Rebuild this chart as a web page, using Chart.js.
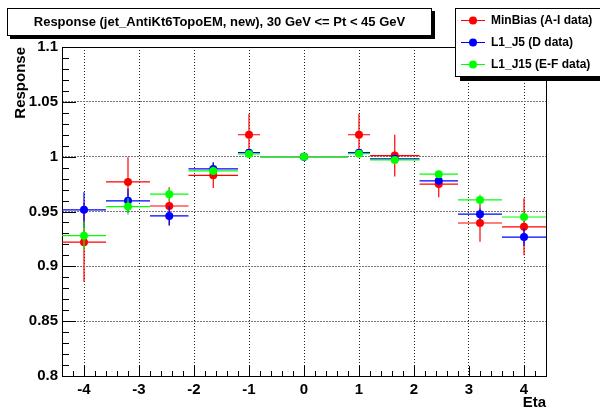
<!DOCTYPE html>
<html>
<head>
<meta charset="utf-8">
<title>Response vs Eta</title>
<script src="https://cdn.jsdelivr.net/npm/chart.js@4.4.1/dist/chart.umd.min.js"></script>
<style>
  html, body { margin: 0; padding: 0; background: #fff; }
  #wrap { position: relative; width: 600px; height: 410px; overflow: hidden;
          font-family: "Liberation Sans", Arial, Helvetica, sans-serif; }
  #chart { position: absolute; left: 0; top: 0; }
  .pave { position: absolute; background: #fff; border: 1px solid #000; box-sizing: border-box; }
  #title { left: 7px; top: 8px; width: 425px; height: 28px; box-shadow: 3px 3px 0 #000;
           font-weight: bold; font-size: 13px; line-height: 26px; text-align: center; white-space: nowrap; }
  #legend { left: 455px; top: 8px; width: 150px; height: 69px; box-shadow: 5px 4px 0 #000; }
  .leg-row { position: absolute; left: 0; height: 18px; line-height: 18px; font-weight: bold;
             font-size: 12px; white-space: nowrap; }
  .leg-row svg { position: absolute; left: 0; top: 0; }
  .leg-row span { position: absolute; left: 35px; top: 0; }
</style>
</head>
<body>
<div id="wrap">
  <canvas id="chart" width="600" height="410"></canvas>
  <div id="title" class="pave"></div>
  <div id="legend" class="pave"></div>
</div>
<script>
// ── Data ──────────────────────────────────────────────────────
const titleText = 'Response (jet_AntiKt6TopoEM, new), 30 GeV <= Pt < 45 GeV';
const seriesNames  = ['MinBias (A-I data)', 'L1_J5 (D data)', 'L1_J15 (E-F data)'];
const seriesColors = ['#ff0000', '#0000ff', '#00ff00'];

// eta bins: centre and edges
const etaCenters = [-4.0, -3.2, -2.45, -1.65, -1.0, 0.0, 1.0, 1.65, 2.45, 3.2, 4.0];
const etaLow     = [-4.4, -3.6, -2.8, -2.1, -1.2, -0.8, 0.8, 1.2, 2.1, 2.8, 3.6];
const etaHigh    = [-3.6, -2.8, -2.1, -1.2, -0.8, 0.8, 1.2, 2.1, 2.8, 3.6, 4.4];

const minBiasResp = [0.922, 0.977, 0.955, 0.983, 1.020, 1.0, 1.020, 1.001, 0.975, 0.9395, 0.936];
const minBiasErr  = [0.036, 0.0225, 0.017, 0.0115, 0.019, 0.0, 0.019, 0.019, 0.012, 0.017, 0.026];

const j5Resp = [0.9515, 0.9597, 0.946, 0.9888, 1.0036, 1.0, 1.0036, 0.998, 0.978, 0.9476, 0.9267];
const j5Err  = [0.016, 0.011, 0.009, 0.006, 0.003, 0.0, 0.003, 0.003, 0.004, 0.005, 0.008];

const j15Resp = [0.928, 0.9545, 0.9658, 0.987, 1.0025, 1.0, 1.0027, 0.997, 0.984, 0.9606, 0.945];
const j15Err  = [0.013, 0.0075, 0.006, 0.004, 0.002, 0.0, 0.002, 0.002, 0.003, 0.005, 0.004];

const etaTicks  = [-4, -3, -2, -1, 0, 1, 2, 3, 4];
const respTicks = [0.8, 0.85, 0.9, 0.95, 1.0, 1.05, 1.1];

// ── Helpers ───────────────────────────────────────────────────
const FONT = '"Liberation Sans", Arial, Helvetica, sans-serif';

function makeSet(idx, values, errs, order) {
  return {
    label: seriesNames[idx],
    data: etaCenters.map((e, i) => ({ x: e, y: values[i] })),
    yErr: errs,
    backgroundColor: seriesColors[idx],
    borderColor: seriesColors[idx],
    pointRadius: 4,
    pointBorderWidth: 0,
    showLine: false,
    order: order
  };
}

// error bars (bin width + response error), drawn under each set's markers
const errorBars = {
  id: 'errorBars',
  beforeDatasetDraw(chart, args) {
    const ds = chart.data.datasets[args.index];
    const xs = chart.scales.x, ys = chart.scales.y;
    const ctx = chart.ctx;
    ctx.save();
    ctx.strokeStyle = ds.borderColor;
    ctx.lineWidth = 1.2;
    ds.data.forEach((p, i) => {
      const py = ys.getPixelForValue(p.y);
      const px = xs.getPixelForValue(p.x);
      ctx.beginPath();
      ctx.moveTo(xs.getPixelForValue(etaLow[i]), py);
      ctx.lineTo(xs.getPixelForValue(etaHigh[i]), py);
      if (ds.yErr[i] > 0) {
        ctx.moveTo(px, ys.getPixelForValue(p.y - ds.yErr[i]));
        ctx.lineTo(px, ys.getPixelForValue(p.y + ds.yErr[i]));
      }
      ctx.stroke();
    });
    ctx.restore();
  }
};

// ROOT-like frame with inward ticks
const rootFrame = {
  id: 'rootFrame',
  beforeDatasetsDraw(chart) {
    const { ctx, chartArea: a, scales: { x, y } } = chart;
    ctx.save();
    ctx.strokeStyle = '#000';
    ctx.lineWidth = 1;
    ctx.beginPath();
    for (let k = -22; k <= 22; k++) {
      const px = Math.round(x.getPixelForValue(k * 0.2)) + 0.5;
      const len = (k % 5 === 0) ? 10 : 5;
      ctx.moveTo(px, a.bottom);
      ctx.lineTo(px, a.bottom - len);
    }
    for (let k = 80; k <= 110; k++) {
      const py = Math.round(y.getPixelForValue(k / 100)) + 0.5;
      const len = (k % 5 === 0) ? 14 : 7;
      ctx.moveTo(a.left, py);
      ctx.lineTo(a.left + len, py);
    }
    ctx.stroke();
    ctx.strokeRect(Math.round(a.left) + 0.5, Math.round(a.top) + 0.5,
                   Math.round(a.right - a.left), Math.round(a.bottom - a.top));
    ctx.restore();
  }
};

// ── Chart ─────────────────────────────────────────────────────
const tickFont = { family: FONT, size: 15, weight: 'bold' };

new Chart(document.getElementById('chart'), {
  type: 'scatter',
  data: {
    datasets: [
      makeSet(0, minBiasResp, minBiasErr, 3),
      makeSet(1, j5Resp, j5Err, 2),
      makeSet(2, j15Resp, j15Err, 1)
    ]
  },
  options: {
    responsive: false,
    animation: false,
    layout: { padding: { top: 47, right: 54, left: 0, bottom: 0 } },
    plugins: {
      legend: { display: false },
      tooltip: { enabled: false },
      title: { display: false }
    },
    scales: {
      x: {
        type: 'linear', min: -4.4, max: 4.4,
        afterBuildTicks: s => { s.ticks = etaTicks.map(v => ({ value: v })); },
        afterFit: s => { s.height = 34; },
        grid: { color: '#222', lineWidth: 1, drawTicks: false },
        border: { display: false, dash: [1, 2] },
        ticks: { color: '#000', font: tickFont, padding: 5, maxRotation: 0,
                 callback: v => String(v) },
        title: { display: true, text: 'Eta', align: 'end', color: '#000', font: tickFont,
                 padding: { top: 0, bottom: -2 } }
      },
      y: {
        type: 'linear', min: 0.8, max: 1.1,
        afterBuildTicks: s => { s.ticks = respTicks.map(v => ({ value: v })); },
        afterFit: s => { s.width = 62; },
        grid: { color: '#777', lineWidth: 1, drawTicks: false },
        border: { display: false, dash: [2, 1] },
        ticks: { color: '#000', font: tickFont, padding: 4,
                 callback: v => String(parseFloat(v.toFixed(2))) },
        title: { display: true, text: 'Response', align: 'end', color: '#000', font: tickFont,
                 padding: { top: 12, bottom: 0 } }
      }
    }
  },
  plugins: [errorBars, rootFrame]
});

// ── Title & legend boxes ──────────────────────────────────────
document.getElementById('title').textContent = titleText;

const legendEl = document.getElementById('legend');
seriesNames.forEach((name, i) => {
  const row = document.createElement('div');
  row.className = 'leg-row';
  row.style.top = (2 + i * 22) + 'px';
  row.innerHTML =
    '<svg width="32" height="18"><line x1="5" y1="9.5" x2="29" y2="9.5" stroke="' + seriesColors[i] +
    '" stroke-width="1"/><circle cx="17" cy="9.5" r="4" fill="' + seriesColors[i] + '"/></svg>';
  const span = document.createElement('span');
  span.textContent = name;
  row.appendChild(span);
  legendEl.appendChild(row);
});
</script>
</body>
</html>
